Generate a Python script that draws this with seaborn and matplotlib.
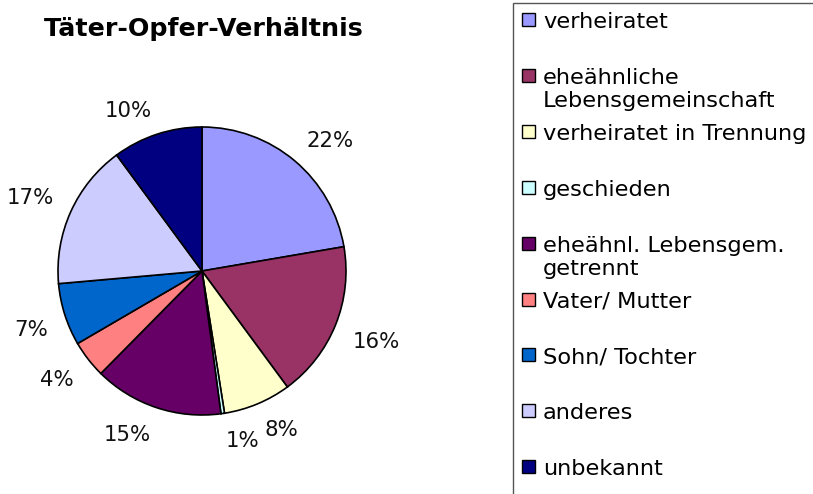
import matplotlib
matplotlib.use("Agg")
import numpy as np
import matplotlib.pyplot as plt
import seaborn as sns
from matplotlib.patches import Rectangle

sns.set_theme(style="white")
plt.rcParams['font.family'] = ['DejaVu Sans']

categories = ["verheiratet", "eheähnliche\nLebensgemeinschaft", "verheiratet in Trennung",
              "geschieden", "eheähnl. Lebensgem.\ngetrennt", "Vater/ Mutter",
              "Sohn/ Tochter", "anderes", "unbekannt"]
values = [22.3, 17.6, 7.6, 0.4, 14.5, 4.2, 7.0, 16.3, 10.1]
pct_labels = ["22%", "16%", "8%", "1%", "15%", "4%", "7%", "17%", "10%"]
colors = ["#9999FF", "#993366", "#FFFFCC", "#CCFFFF", "#660066",
          "#FF8080", "#0066CC", "#CCCCFF", "#000080"]
title = "Täter-Opfer-Verhältnis"

W, H = 813, 494
fig = plt.figure(figsize=(W / 100, H / 100), dpi=100)
fig.patch.set_facecolor("white")

# pie axes: center (202, 271) px, radius 144 px
R = 144
cx, cy = 202, 271
lim = 1.4
side = 2 * lim * R
ax = fig.add_axes([(cx - side / 2) / W, (H - cy - side / 2) / H, side / W, side / H])
wedges, _ = ax.pie(values, colors=colors, startangle=90, counterclock=False,
                   wedgeprops=dict(edgecolor="black", linewidth=1.2))
for w, lab in zip(wedges, pct_labels):
    mid = np.deg2rad((w.theta1 + w.theta2) / 2)
    x, y = 1.125 * np.cos(mid), 1.125 * np.sin(mid)
    ax.text(x, y, lab, ha="left" if x > 0 else "right",
            va="baseline" if y > 0 else "top", fontsize=15.3, color="#111111")
ax.set_xlim(-lim, lim)
ax.set_ylim(-lim, lim)
ax.set_aspect("equal")
ax.axis("off")

fig.text(204 / W, 1 - 36 / H, title, ha="center", va="baseline",
         fontsize=18.3, fontweight="bold", color="black")

# legend box
fig.patches.append(Rectangle((512.5 / W, -0.1), 1.0, (H - 2.7) / H + 0.1,
                             transform=fig.transFigure, facecolor="white",
                             edgecolor="#555555", linewidth=1.0, zorder=0))
slot = 55.9
line_h = 23.3
for i, (lab, col) in enumerate(zip(categories, colors)):
    ymid = 19.5 + i * slot
    fig.patches.append(Rectangle((522 / W, 1 - (ymid + 6.5) / H), 13 / W, 13 / H,
                                 transform=fig.transFigure, facecolor=col,
                                 edgecolor="black", linewidth=1.0, zorder=2))
    for j, line in enumerate(lab.split("\n")):
        fig.text(543 / W, 1 - (ymid + 8.5 + j * line_h) / H, line, ha="left",
                 va="baseline", fontsize=16.2, color="black")

fig.savefig("out.png", dpi=100)
